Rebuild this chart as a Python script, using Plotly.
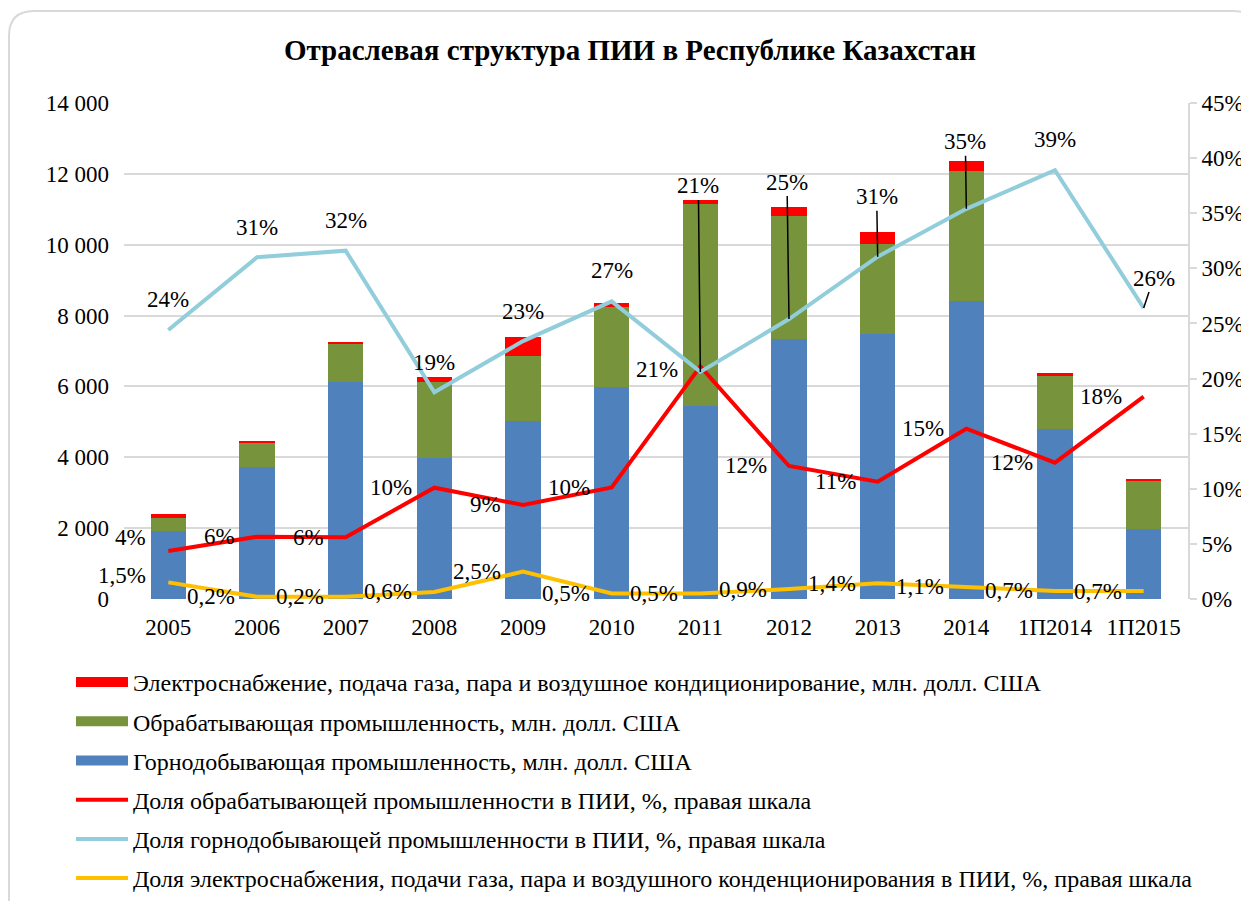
import plotly.graph_objects as go

categories = ["2005", "2006", "2007", "2008", "2009", "2010", "2011", "2012", "2013", "2014", "1П2014", "1П2015"]

# млн. долл. США
mining = [1930, 3726, 6134, 3990, 5015, 5993, 5456, 7330, 7471, 8420, 4790, 1967]
manufacturing = [360, 686, 1078, 2144, 1844, 2257, 5684, 3480, 2549, 3669, 1505, 1363]
energy = [120, 30, 42, 132, 527, 105, 122, 246, 339, 265, 75, 57]

# доли, %
share_manufacturing = [4.35, 5.65, 5.6, 10.1, 8.53, 10.13, 21.1, 12.07, 10.65, 15.45, 12.37, 18.36]
share_mining = [24.4, 31.0, 31.6, 18.75, 23.4, 27.0, 20.6, 25.4, 31.06, 35.4, 38.9, 26.4]
share_energy = [1.51, 0.2, 0.2, 0.64, 2.48, 0.51, 0.51, 0.9, 1.42, 1.12, 0.73, 0.72]

NAME_ENERGY = "Электроснабжение, подача газа, пара и воздушное кондиционирование, млн. долл. США"
NAME_MANUF = "Обрабатывающая промышленность, млн. долл. США"
NAME_MINING = "Горнодобывающая промышленность, млн. долл. США"
NAME_SH_MANUF = "Доля обрабатывающей промышленности в ПИИ, %, правая шкала"
NAME_SH_MINING = "Доля горнодобывающей промышленности в ПИИ, %, правая шкала"
NAME_SH_ENERGY = "Доля электроснабжения, подачи газа, пара и воздушного конденционирования в ПИИ, %, правая шкала"

FONT = "Liberation Serif, Times New Roman, serif"
BLUE, GREEN, RED = "#4F81BD", "#77933C", "#FF0000"
LIGHT_BLUE, YELLOW = "#92CDDC", "#FFC000"
GRID = "#D9D9D9"
LABEL_SIZE = 23

# label placement: (dx, dy, leader line) in pixels
mining_label_pos = [
    (0, -31, False), (0, -30, False), (0, -30, False), (0, -30, False),
    (0, -30, False), (0, -31, False), (-2, -186, True), (-2, -137, True),
    (-1, -60, True), (-1, -67, True), (0, -31, False), (10, -30, True),
]
manuf_label_dy = [-14, 0, 0, 0, 0, 0, 3, 0, 0, 0, 0, 0]
energy_label_dy = [-7, 0, 0, 0, 0, 0, 0, 0, 0, 0, 0, 0]

fig = go.Figure()

for name, values, color in [(NAME_MINING, mining, BLUE), (NAME_MANUF, manufacturing, GREEN), (NAME_ENERGY, energy, RED)]:
    fig.add_bar(x=categories, y=values, name=name, marker_color=color, marker_line_width=0, showlegend=False)

# wide swatches for the bar series in the legend
for name, color in [(NAME_ENERGY, RED), (NAME_MANUF, GREEN), (NAME_MINING, BLUE)]:
    fig.add_scatter(x=categories[:1], y=[None], mode="lines", name=name, legendgroup=name,
                    line=dict(color=color, width=11))

for name, values, color in [(NAME_SH_MANUF, share_manufacturing, RED),
                            (NAME_SH_MINING, share_mining, LIGHT_BLUE),
                            (NAME_SH_ENERGY, share_energy, YELLOW)]:
    fig.add_scatter(x=categories, y=values, yaxis="y2", mode="lines", name=name, legendgroup=name,
                    line=dict(color=color, width=4))

# annotations on a category axis take the category index (labels like "2005" would be read as numbers)
label_font = dict(family=FONT, size=LABEL_SIZE, color="black")
annotations = []
for i, (v, (dx, dy, leader)) in enumerate(zip(share_mining, mining_label_pos)):
    a = dict(x=i, y=v, xref="x", yref="y2", text=f"{v:.0f}%", font=label_font)
    if leader:
        a.update(showarrow=True, ax=dx, ay=dy, arrowhead=0, arrowwidth=1.5, arrowcolor="black", standoff=0)
    else:
        a.update(showarrow=False, xshift=dx, yshift=-dy)
    annotations.append(a)
for i, (v, dy) in enumerate(zip(share_manufacturing, manuf_label_dy)):
    annotations.append(dict(x=i, y=v, xref="x", yref="y2", text=f"{v:.0f}%", font=label_font,
                            showarrow=False, xanchor="right", xshift=-20, yshift=-dy))
for i, (v, dy) in enumerate(zip(share_energy, energy_label_dy)):
    annotations.append(dict(x=i, y=v, xref="x", yref="y2", text=f"{v:.1f}%".replace(".", ","), font=label_font,
                            showarrow=False, xanchor="right", xshift=-20, yshift=-dy))

# plot area in figure pixels -> paper units, for the rounded frame and legend
W, H = 1241, 893
L, R, T, B = 116, 1180, 95, 591
def xp(px):
    return (px - L) / (R - L)
def yp(py):
    return (B - py) / (B - T)

frame = (f"M {xp(1)},{yp(905)} L {xp(1)},{yp(28)} Q {xp(1)},{yp(3)} {xp(26)},{yp(3)} "
         f"L {xp(1225)},{yp(3)} Q {xp(1250)},{yp(3)} {xp(1250)},{yp(28)} L {xp(1250)},{yp(905)}")

fig.update_layout(
    width=W,
    height=H,
    margin=dict(l=L, r=W - R, t=T, b=H - B, autoexpand=False),
    barmode="stack",
    bargap=0.6,
    separators=", ",
    plot_bgcolor="white",
    paper_bgcolor="white",
    font=dict(family=FONT, size=LABEL_SIZE, color="black"),
    title=dict(text="<b>Отраслевая структура ПИИ в Республике Казахстан</b>",
               x=622 / W, xref="container", xanchor="center",
               y=1 - 42 / H, yref="container", yanchor="middle",
               font=dict(family=FONT, size=29, color="black")),
    xaxis=dict(type="category", categoryorder="array", categoryarray=categories,
               range=[-0.5, len(categories) - 0.5], autorange=False,
               showgrid=False, showline=False, zeroline=False, ticks="",
               ticklabelstandoff=12, tickfont=dict(size=LABEL_SIZE)),
    yaxis=dict(range=[0, 14000], dtick=2000, tickformat=",", showgrid=True, gridcolor=GRID, gridwidth=2,
               zeroline=False, showline=False, ticks="", ticklabelstandoff=14, tickfont=dict(size=LABEL_SIZE)),
    yaxis2=dict(overlaying="y", side="right", range=[0, 45], dtick=5, ticksuffix="%", showgrid=False,
                zeroline=False, showline=True, linecolor=GRID, linewidth=2, ticks="outside", ticklen=7,
                tickcolor=GRID, tickwidth=2, ticklabelstandoff=0, tickfont=dict(size=LABEL_SIZE)),
    legend=dict(x=xp(63), y=yp(652), xanchor="left", yanchor="top", orientation="v",
                traceorder="grouped", tracegroupgap=5, itemwidth=52,
                font=dict(family=FONT, size=24), bgcolor="rgba(0,0,0,0)"),
    annotations=annotations,
    shapes=[dict(type="path", path=frame, xref="paper", yref="paper", layer="below",
                 line=dict(color=GRID, width=2))],
)

fig.write_html("out.html")
